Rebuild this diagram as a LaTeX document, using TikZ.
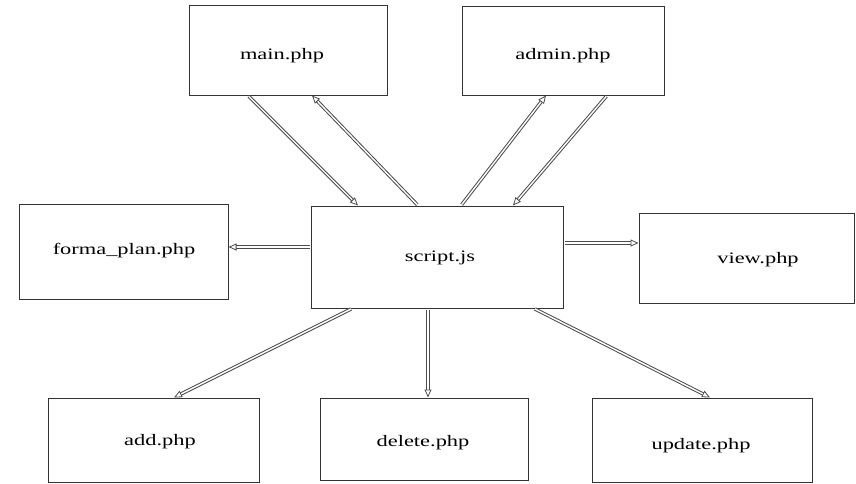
\documentclass[tikz,border=0pt]{standalone}
\usepackage{fontspec}
\setmainfont{Liberation Serif}
\usetikzlibrary{arrows.meta}
\newcommand{\wide}[1]{\scalebox{1.4}[1]{#1}}
\tikzset{
  box/.style={draw=black!80, line width=1pt, inner sep=0pt, rectangle},
  lbl/.style={inner sep=0pt, font=\fontsize{16}{18}\selectfont, text=black},
  dbl/.style={draw=black!70, line width=1pt, double=white, double distance=1.4pt,
    -{Triangle[open, length=8pt, width=7pt, line width=0.8pt]}, shorten <=1pt},
}
\begin{document}
\begin{tikzpicture}[x=1pt,y=-1pt]
\useasboundingbox (0,0) rectangle (856,483);
% boxes
\node[box, minimum width=198pt, minimum height=90pt] (main) at (288,50) {};
\node[box, minimum width=202pt, minimum height=89pt] (admin) at (563,50.5) {};
\node[box, minimum width=209pt, minimum height=95pt] (forma) at (123.5,251.5) {};
\node[box, minimum width=252pt, minimum height=102pt] (script) at (437,257) {};
\node[box, minimum width=215pt, minimum height=90pt] (view) at (746.5,258) {};
\node[box, minimum width=211pt, minimum height=84pt] (add) at (153.5,440) {};
\node[box, minimum width=208pt, minimum height=82pt] (delete) at (424,439) {};
\node[box, minimum width=220pt, minimum height=84pt] (update) at (702,440) {};
% labels
\node[lbl] (mainl) at (282,56) {\wide{main.php}};
\node[lbl] (adminl) at (563,56) {\wide{admin.php}};
\node[lbl] (formal) at (124,251) {\wide{forma\_plan.php}};
\node[lbl] (scriptl) at (440,258) {\wide{script.js}};
\node[lbl] (viewl) at (758,260) {\wide{view.php}};
\node[lbl] (addl) at (160,442) {\wide{add.php}};
\node[lbl] (deletel) at (423,443) {\wide{delete.php}};
\node[lbl] (updatel) at (701,446) {\wide{update.php}};
% connectors
\draw[dbl] ([xshift=-40pt]main.south) -- ([xshift=-79pt]script.north);
\draw[dbl] ([xshift=-19pt]script.north) -- ([xshift=24pt]main.south);
\draw[dbl] ([xshift=24pt]script.north) -- ([xshift=-17pt]admin.south);
\draw[dbl] ([xshift=44pt]admin.south) -- ([xshift=76pt]script.north);
\draw[dbl] ([yshift=10pt]script.west) -- ([yshift=4.5pt]forma.east);
\draw[dbl] ([yshift=14pt]script.east) -- ([yshift=15pt]view.west);
\draw[dbl] ([xshift=-85pt]script.south) -- ([xshift=20.5pt]add.north);
\draw[dbl] ([xshift=-9pt]script.south) -- ([xshift=4pt]delete.north);
\draw[dbl] ([xshift=97pt]script.south) -- ([xshift=8pt]update.north);
\end{tikzpicture}
\end{document}
